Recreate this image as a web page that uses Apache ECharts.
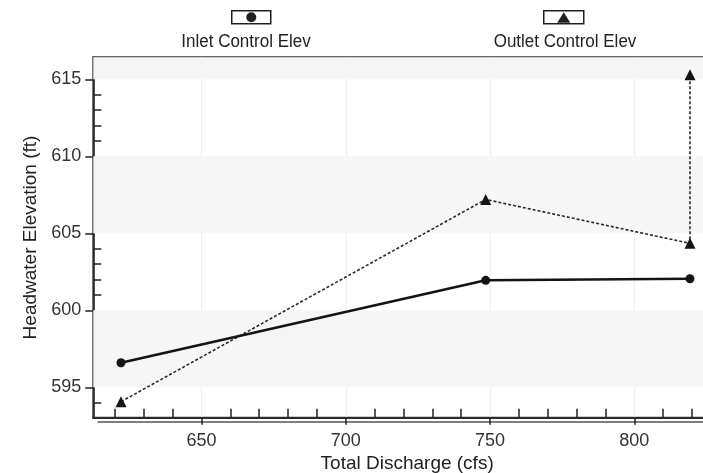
<!DOCTYPE html>
<html>
<head>
<meta charset="utf-8">
<script src="https://cdn.jsdelivr.net/npm/echarts@6/dist/echarts.min.js"></script>
<style>
  html, body { margin: 0; padding: 0; background: #fff; }
  #chart { width: 703px; height: 473px; }
</style>
</head>
<body>
<div id="chart"></div>
<script>
// Culvert performance: headwater elevation vs total discharge
const seriesNames = ['Inlet Control Elev', 'Outlet Control Elev'];
const discharge = [622.1, 748.5, 819.3];
const inletElev = [596.6, 601.95, 602.05];
// outlet curve ends with a vertical step at the last discharge
const outletDischarge = [622.1, 748.5, 819.3, 819.3];
const outletElev = [594.07, 607.2, 604.35, 615.3];

const xMajorTicks = [650, 700, 750, 800];
const xMinorTicks = [620, 630, 640, 660, 670, 680, 690, 710, 720, 730, 740, 760, 770, 780, 790, 810, 820];
const yMajorTicks = [595, 600, 605, 610, 615];
const yMinorTicks = [594, 596, 597, 598, 599, 601, 602, 603, 604, 606, 607, 608, 609, 611, 612, 613, 614, 616];
const shadedBands = [[595, 600], [605, 610], [615, 616.43]];

const xRange = [612.5, 825.2];
const yRange = [593.03, 616.43];

const FONT = "'Liberation Sans', Arial, sans-serif";
const INK = '#1f1f1f';

const chart = echarts.init(document.getElementById('chart'), null, { renderer: 'canvas' });

const inletData = discharge.map((x, i) => [x, inletElev[i]]);
const outletData = outletDischarge.map((x, i) => [x, outletElev[i]]);

const option = {
  backgroundColor: '#ffffff',
  animation: false,
  grid: {
    left: 93.3, top: 57.3, right: -4, bottom: 55.3,
    outerBoundsMode: 'none', containLabel: false,
    show: true, borderColor: '#3a3a3a', borderWidth: 2, backgroundColor: 'transparent'
  },
  xAxis: [
    {
      type: 'value', min: xRange[0], max: xRange[1], position: 'bottom',
      name: 'Total Discharge (cfs)', nameLocation: 'middle', nameGap: 37,
      nameTextStyle: { fontFamily: FONT, fontSize: 19, color: '#222', padding: [0, 0, 0, 14] },
      axisLine: { show: true, lineStyle: { color: '#2a2a2a', width: 2,
        shadowColor: 'rgba(0,0,0,0.5)', shadowOffsetX: 5, shadowOffsetY: 4, shadowBlur: 0 } },
      axisTick: { show: true, customValues: xMajorTicks, inside: false, length: 7,
        lineStyle: { color: '#222', width: 1.5 } },
      axisLabel: { customValues: xMajorTicks, margin: 14, fontFamily: FONT, fontSize: 18, color: '#333' },
      splitLine: { show: true, lineStyle: { color: '#eeeeee', width: 1 } }
    },
    {
      type: 'value', min: xRange[0], max: xRange[1], position: 'bottom',
      axisLine: { show: false },
      axisTick: { show: true, customValues: xMinorTicks, inside: true, length: 9,
        lineStyle: { color: '#222', width: 1.5 } },
      axisLabel: { show: false },
      splitLine: { show: false }
    }
  ],
  yAxis: [
    {
      type: 'value', min: yRange[0], max: yRange[1], position: 'left',
      name: 'Headwater Elevation (ft)', nameLocation: 'middle', nameGap: 51,
      nameTextStyle: { fontFamily: FONT, fontSize: 19, color: '#222' },
      axisLine: { show: true, lineStyle: { color: '#2a2a2a', width: 1.5 } },
      axisTick: { show: true, customValues: yMajorTicks, inside: false, length: 8,
        lineStyle: { color: '#222', width: 1.5 } },
      axisLabel: { customValues: yMajorTicks, margin: 12, fontFamily: FONT, fontSize: 18, color: '#333' },
      splitLine: { show: false }
    },
    {
      type: 'value', min: yRange[0], max: yRange[1], position: 'left',
      axisLine: { show: false },
      axisTick: { show: true, customValues: yMinorTicks, inside: true, length: 8,
        lineStyle: { color: '#222', width: 1.5 } },
      axisLabel: { show: false },
      splitLine: { show: false }
    }
  ],
  series: [
    {
      name: seriesNames[0], type: 'line', xAxisIndex: 0, yAxisIndex: 0,
      data: inletData, symbol: 'circle', symbolSize: 9, showSymbol: true,
      lineStyle: { color: '#141414', width: 2.6 },
      itemStyle: { color: '#141414' },
      z: 4,
      markArea: {
        silent: true,
        itemStyle: { color: '#f6f6f6' },
        data: shadedBands.map(b => [{ yAxis: b[0] }, { yAxis: b[1] }])
      }
    },
    {
      name: seriesNames[1], type: 'line', xAxisIndex: 0, yAxisIndex: 0,
      data: outletData, symbol: 'triangle', symbolSize: 11, showSymbol: true,
      lineStyle: { color: '#2a2a2a', width: 1.6, type: [3, 2] },
      itemStyle: { color: '#141414' },
      z: 3
    }
  ],
  graphic: [
    {
      type: 'group', left: 231, top: 10,
      children: [
        { type: 'rect', shape: { x: 0, y: 0, width: 39, height: 13 },
          style: { fill: '#fff', stroke: INK, lineWidth: 1.5 } },
        { type: 'circle', shape: { cx: 19.5, cy: 6.5, r: 5 }, style: { fill: INK } }
      ]
    },
    {
      type: 'text', x: 246, y: 42, scaleY: 1.1,
      style: { text: seriesNames[0], fontFamily: FONT, fontSize: 17, fill: '#222',
        align: 'center', verticalAlign: 'middle' }
    },
    {
      type: 'group', left: 543, top: 10,
      children: [
        { type: 'rect', shape: { x: 0, y: 0, width: 40, height: 13 },
          style: { fill: '#fff', stroke: INK, lineWidth: 1.5 } },
        { type: 'polygon', shape: { points: [[13.5, 12], [20, 1.5], [26.5, 12]] }, style: { fill: INK } }
      ]
    },
    {
      type: 'text', x: 565, y: 42, scaleY: 1.1,
      style: { text: seriesNames[1], fontFamily: FONT, fontSize: 17, fill: '#222',
        align: 'center', verticalAlign: 'middle' }
    }
  ]
};

chart.setOption(option);
</script>
</body>
</html>
